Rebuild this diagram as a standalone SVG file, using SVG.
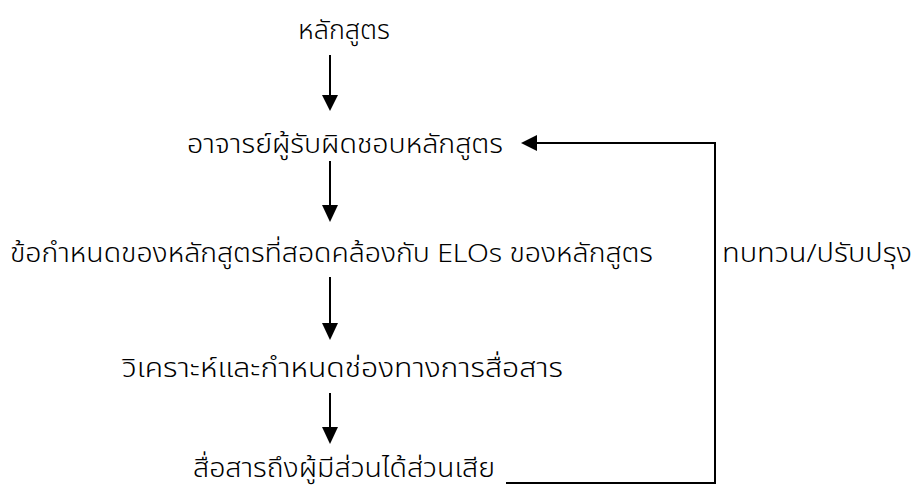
<svg xmlns="http://www.w3.org/2000/svg" width="917" height="493" viewBox="0 0 917 493">
<style>
text{font-family:"Noto Sans Thai","Leelawadee UI",Tahoma,"DejaVu Sans","Noto Sans",sans-serif;font-size:26px;font-weight:300;fill:#000}
.c{stroke:#000;stroke-width:2;fill:none}
.h{fill:#000}
</style>
<rect width="917" height="493" fill="#fff"/>
<g id="n1"><text x="298" y="39" textLength="92" lengthAdjust="spacingAndGlyphs">หลักสูตร</text></g>
<g id="n2"><text x="187" y="153" textLength="316" lengthAdjust="spacingAndGlyphs">อาจารย์ผู้รับผิดชอบหลักสูตร</text></g>
<g id="n3"><text x="10" y="262" textLength="643" lengthAdjust="spacingAndGlyphs">ข้อกำหนดของหลักสูตรที่สอดคล้องกับ ELOs ของหลักสูตร</text></g>
<g id="n4"><text x="122" y="377" textLength="441" lengthAdjust="spacingAndGlyphs">วิเคราะห์และกำหนดช่องทางการสื่อสาร</text></g>
<g id="n5"><text x="193" y="477" textLength="302" lengthAdjust="spacingAndGlyphs">สื่อสารถึงผู้มีส่วนได้ส่วนเสีย</text></g>
<g id="lbl"><text x="722" y="262" textLength="190" lengthAdjust="spacingAndGlyphs">ทบทวน/ปรับปรุง</text></g>
<g id="connectors">
<path class="c" d="M330,55 V96"/><path class="h" d="M322,95 L338,95 L330,111 Z"/>
<path class="c" d="M330,161 V206"/><path class="h" d="M322,205 L338,205 L330,222 Z"/>
<path class="c" d="M330,277 V324"/><path class="h" d="M322,323 L338,323 L330,340 Z"/>
<path class="c" d="M330,393 V428"/><path class="h" d="M322,427 L338,427 L330,444 Z"/>
<path class="c" d="M506,483 H715 V143 H536"/><path class="h" d="M537,135 L537,151 L521,143 Z"/>
</g>
</svg>
